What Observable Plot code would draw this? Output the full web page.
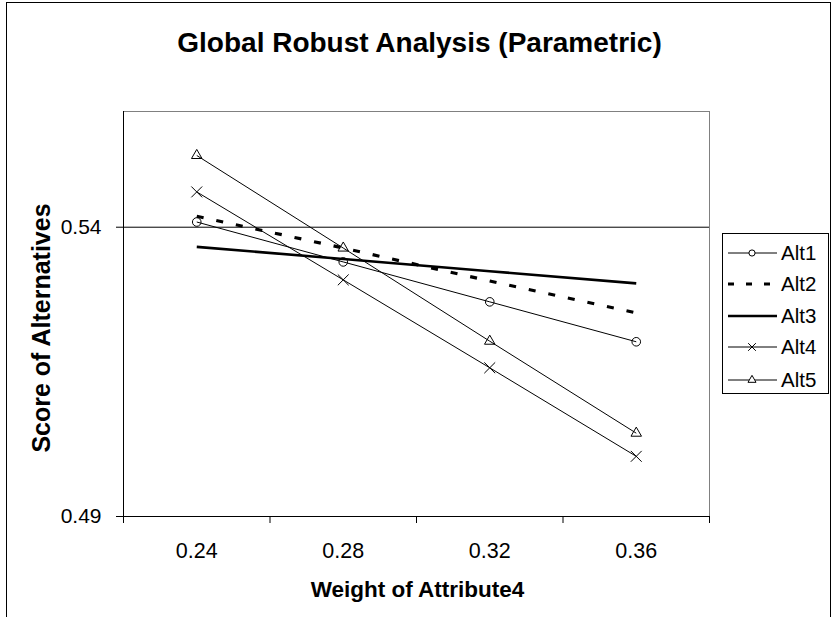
<!DOCTYPE html>
<html>
<head>
<meta charset="utf-8">
<script src="https://cdn.jsdelivr.net/npm/d3@7"></script>
<script src="https://cdn.jsdelivr.net/npm/@observablehq/plot@0.6"></script>
<style>
  body { margin: 0; background: #fff; }
  #chart { position: relative; width: 836px; height: 617px; overflow: hidden;
           font-family: "Liberation Sans", Arial, sans-serif; }
  #outer { position: absolute; left: 6px; top: 2px; width: 825px; height: 720px;
           border: 1.5px solid #000; box-sizing: border-box; pointer-events: none; }
  #legend { position: absolute; left: 722px; top: 233px; }
</style>
</head>
<body>
<div id="chart"><div id="outer"></div></div>
<script>
// Weight of Attribute4 (categories on the x axis)
const weights = [0.24, 0.28, 0.32, 0.36];

// Score of each alternative at each weight
const alt1 = [0.5409, 0.5340, 0.5271, 0.5202];
const alt2 = [0.5419, 0.5364, 0.5307, 0.5252];
const alt3 = [0.5366, 0.5345, 0.5324, 0.5303];
const alt4 = [0.5461, 0.5309, 0.5157, 0.5004];
const alt5 = [0.5524, 0.5364, 0.5203, 0.5044];

const seriesNames = ["Alt1", "Alt2", "Alt3", "Alt4", "Alt5"];
const seriesValues = [alt1, alt2, alt3, alt4, alt5];

// Axis ticks
const yTicks = [0.49, 0.54];
const xLabelTicks = weights;
const xBoundaryTicks = [0.22, 0.26, 0.30, 0.34, 0.38];

const titleText = "Global Robust Analysis (Parametric)";
const xTitle = "Weight of Attribute4";
const yTitle = "Score of Alternatives";

// line / marker styling per series
const look = {
  Alt1: {strokeWidth: 1, dash: null, symbol: "circle", r: 4.3, legendSize: 30},
  Alt2: {strokeWidth: 3.2, dash: "7,13", symbol: null},
  Alt3: {strokeWidth: 2.6, dash: null, symbol: null},
  Alt4: {strokeWidth: 1, dash: null, symbol: "times", r: 5, legendSize: 40},
  Alt5: {strokeWidth: 1, dash: null, symbol: "triangle", r: 3.9, legendSize: 28}
};

const rows = seriesNames.flatMap((name, s) =>
  weights.map((w, i) => ({series: name, w, v: seriesValues[s][i]})));

const font = `"Liberation Sans", Arial, sans-serif`;

const seriesMarks = seriesNames.flatMap(name => {
  const st = look[name];
  const data = rows.filter(d => d.series === name);
  const marks = [Plot.line(data, {
    x: "w", y: "v", stroke: "#000", strokeWidth: st.strokeWidth,
    strokeDasharray: st.dash ?? undefined, strokeLinecap: "butt"
  })];
  if (st.symbol) marks.push(Plot.dot(data, {
    x: "w", y: "v", symbol: () => st.symbol, r: st.r,
    stroke: "#000", strokeWidth: 1, fill: "none"
  }));
  return marks;
});

const chart = Plot.plot({
  width: 836,
  height: 617,
  marginLeft: 123,
  marginRight: 127,
  marginTop: 111,
  marginBottom: 101,
  style: {fontFamily: font, fontSize: "21px", color: "#000", background: "transparent"},
  x: {domain: [0.22, 0.38]},
  y: {domain: [0.49, 0.56]},
  symbol: {type: "identity"},
  marks: [
    Plot.frame({stroke: "#808080", strokeWidth: 1}),
    Plot.ruleY([0.54], {stroke: "#000", strokeWidth: 1}),
    Plot.ruleX([0.22], {stroke: "#000", strokeWidth: 1}),
    Plot.ruleY([0.49], {stroke: "#000", strokeWidth: 1}),
    Plot.axisY(yTicks, {tickSize: 7, tickPadding: 15, tickFormat: d3.format(".2f"),
                        label: null, fontSize: 21}),
    Plot.axisX(xBoundaryTicks, {tickSize: 7, tickFormat: () => "", label: null}),
    Plot.axisX(xLabelTicks, {tickSize: 0, tickPadding: 26, tickFormat: d3.format(".2f"),
                             label: null, fontSize: 21.5}),
    ...seriesMarks,
    Plot.text([titleText], {frameAnchor: "top", dx: 3, dy: -68, lineAnchor: "middle",
                            textAnchor: "middle", fontSize: 28, fontWeight: "bold", text: d => d}),
    Plot.text([xTitle], {frameAnchor: "bottom", dx: 1, dy: 73, lineAnchor: "middle",
                         textAnchor: "middle", fontSize: 22.5, fontWeight: "bold", text: d => d}),
    Plot.text([yTitle], {frameAnchor: "left", dx: -82, dy: 14, lineAnchor: "middle",
                         textAnchor: "middle", rotate: -90, fontSize: 25, fontWeight: "bold",
                         text: d => d})
  ]
});
document.getElementById("chart").appendChild(chart);

// Legend box
const legendW = 107, legendH = 161, rowY = [20, 51, 83, 114, 147];
const lg = d3.select("#chart").append("svg")
  .attr("id", "legend").attr("width", legendW).attr("height", legendH);
lg.append("rect").attr("x", 0.5).attr("y", 0.5)
  .attr("width", legendW - 1).attr("height", legendH - 1)
  .attr("fill", "#fff").attr("stroke", "#000");
const symbolTypes = {circle: d3.symbolCircle, times: d3.symbolTimes, triangle: d3.symbolTriangle};
seriesNames.forEach((name, i) => {
  const st = look[name];
  const g = lg.append("g").attr("transform", `translate(0,${rowY[i]})`);
  g.append("line").attr("x1", 6).attr("x2", 55).attr("y1", 0).attr("y2", 0)
    .attr("stroke", "#000").attr("stroke-width", st.strokeWidth)
    .attr("stroke-dasharray", st.dash ? "6,12" : null);
  if (st.symbol) g.append("path")
    .attr("transform", "translate(30,0)")
    .attr("d", d3.symbol(symbolTypes[st.symbol], st.legendSize)())
    .attr("fill", st.symbol === "times" ? "none" : "#fff")
    .attr("stroke", "#000").attr("stroke-width", 1);
  g.append("text").attr("x", 59).attr("y", 0).attr("dy", "0.35em")
    .attr("font-family", font).attr("font-size", 20.5).text(name);
});
</script>
</body>
</html>
